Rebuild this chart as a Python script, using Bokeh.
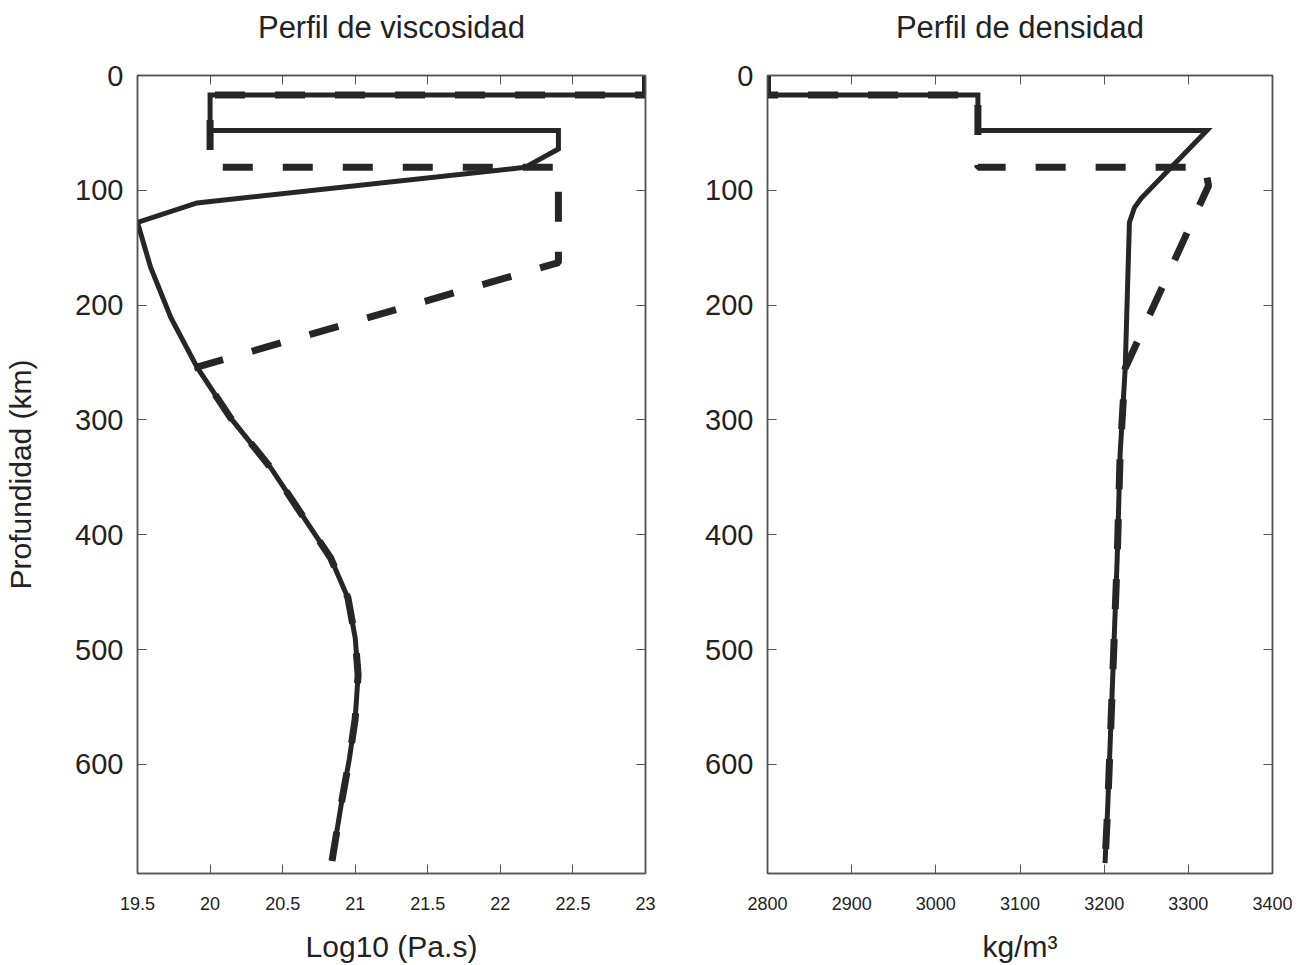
from bokeh.plotting import figure
from bokeh.layouts import row
from bokeh.models import Range1d, FixedTicker, LinearAxis
from bokeh.embed import file_html
from bokeh.resources import INLINE

# ---------------- data ----------------
depth_ticks = [0, 100, 200, 300, 400, 500, 600]

visc_ticks = [19.5, 20, 20.5, 21, 21.5, 22, 22.5, 23]
visc_tick_labels = ["19.5", "20", "20.5", "21", "21.5", "22", "22.5", "23"]

dens_ticks = [2800, 2900, 3000, 3100, 3200, 3300, 3400]
dens_tick_labels = ["2800", "2900", "3000", "3100", "3200", "3300", "3400"]

# viscosity: shared deep part (both models coincide below ~254 km)
visc_deep_x = [19.91, 20.14, 20.42, 20.74, 20.83, 20.95, 21.00, 21.02, 21.00, 20.96, 20.91, 20.84]
visc_deep_y = [254, 298, 342, 403, 420, 455, 490, 522, 560, 595, 630, 684]
# solid model, upper part
visc_solid_top_x = [23, 23, 20, 20, 22.4, 22.4, 22.17, 19.91, 19.5, 19.59, 19.73]
visc_solid_top_y = [0, 17, 17, 48, 48, 64, 80, 111, 128, 167, 211]
# dashed model, upper part
visc_dash_top_x = [23, 23, 20, 20, 22.4, 22.4]
visc_dash_top_y = [0, 17, 17, 80, 80, 163]

# density: shared deep part
dens_deep_x = [3225, 3219, 3215.5, 3210, 3204, 3201]
dens_deep_y = [255, 329, 420, 527, 641, 686]
# solid model, upper part
dens_solid_top_x = [2800, 2800, 3050, 3050, 3322, 3244, 3236, 3230]
dens_solid_top_y = [0, 17, 17, 48, 48, 107, 115, 128]
# dashed model, upper part
dens_dash_top_x = [2800, 2800, 3050, 3050, 3320, 3324]
dens_dash_top_y = [0, 17, 17, 80, 80, 96]

LINE = "#262626"
AX = "#555555"
TXT = "#222222"
FONT = "Liberation Sans"


def mirror_axis(ticks, label=None):
    ax = LinearAxis(ticker=FixedTicker(ticks=ticks), major_label_text_color=None,
                    major_label_text_font_size="1px",
                    major_label_standoff=0, major_tick_in=9, major_tick_out=0,
                    minor_tick_line_color=None, axis_line_color=AX, major_tick_line_color=AX,
                    axis_line_width=1.5)
    if label:
        ax.axis_label = label
        ax.axis_label_text_font = FONT
        ax.axis_label_text_font_size = "31px"
        ax.axis_label_text_font_style = "normal"
        ax.axis_label_text_color = TXT
        ax.axis_label_standoff = 31
    return ax


def style_axes(p, xticks, xlabels, ylabel, title):
    xa = p.xaxis[0]
    ya = p.yaxis[0]
    xa.ticker = FixedTicker(ticks=xticks)
    xa.major_label_overrides = {t: l for t, l in zip(xticks, xlabels)}
    ya.ticker = FixedTicker(ticks=depth_ticks)
    for ax in (xa, ya):
        ax.major_tick_in = 9
        ax.major_tick_out = 0
        ax.minor_tick_line_color = None
        ax.axis_line_color = AX
        ax.major_tick_line_color = AX
        ax.axis_line_width = 1.5
        ax.major_label_text_color = TXT
        ax.major_label_text_font = FONT
        ax.axis_label_text_font = FONT
        ax.axis_label_text_font_style = "normal"
        ax.axis_label_text_color = TXT
        ax.axis_label_text_font_size = "30px"
    xa.major_label_text_font_size = "18px"
    xa.major_label_standoff = 23
    xa.axis_label_standoff = 17
    ya.major_label_text_font_size = "29px"
    ya.major_label_standoff = 14
    ya.axis_label_standoff = 35
    if ylabel:
        ya.axis_label = ylabel
    p.add_layout(mirror_axis(xticks, title), "above")
    p.add_layout(mirror_axis(depth_ticks), "right")


def make_fig(xr, xlabel, width, border_left, border_right):
    p = figure(width=width, height=965, output_backend="svg", toolbar_location=None,
               x_range=Range1d(*xr), y_range=Range1d(695, 0),
               min_border_left=border_left, min_border_right=border_right,
               min_border_top=75, min_border_bottom=92)
    p.xgrid.grid_line_color = None
    p.ygrid.grid_line_color = None
    p.outline_line_color = AX
    p.outline_line_width = 1.5
    p.background_fill_color = "white"
    p.border_fill_color = "white"
    p.xaxis[0].axis_label = xlabel
    return p


p1 = make_fig((19.5, 23), "Log10 (Pa.s)", 665, 137, 20)
style_axes(p1, visc_ticks, visc_tick_labels, "Profundidad (km)", "Perfil de viscosidad")
p1.line(visc_solid_top_x + visc_deep_x, visc_solid_top_y + visc_deep_y,
        line_color=LINE, line_width=5, line_join="miter")
p1.line(visc_dash_top_x + visc_deep_x, visc_dash_top_y + visc_deep_y,
        line_color=LINE, line_width=7, line_dash="30 30", line_cap="butt")

p2 = make_fig((2800, 3400), "kg/m³", 627, 102, 20)
style_axes(p2, dens_ticks, dens_tick_labels, None, "Perfil de densidad")
p2.line(dens_solid_top_x + dens_deep_x, dens_solid_top_y + dens_deep_y,
        line_color=LINE, line_width=5, line_join="miter")
p2.line(dens_dash_top_x + dens_deep_x, dens_dash_top_y + dens_deep_y,
        line_color=LINE, line_width=7, line_dash="30 30", line_cap="butt")

layout = row(p1, p2)
open("out.html", "w").write(file_html(layout, INLINE))
